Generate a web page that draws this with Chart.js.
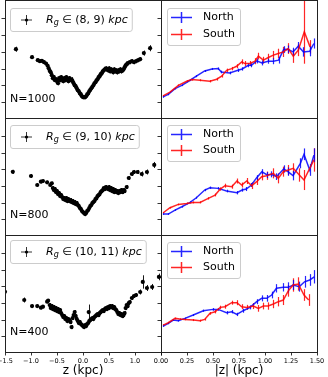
<!DOCTYPE html>
<html><head><meta charset="utf-8">
<script src="https://cdn.jsdelivr.net/npm/chart.js@4.4.1/dist/chart.umd.min.js"></script>
<style>
html,body{margin:0;padding:0;background:#fff;}
#wrap{position:relative;width:328px;height:377px;overflow:hidden;background:#fff;}
canvas{position:absolute;}
</style></head><body><div id="wrap"></div>
<script>
// ---------- DATA ----------
// left column: [z (kpc), value, error]
const leftR1 = [
[-1.29,4.18,0.15],[-0.98,3.71,0.1],[-0.87,3.53,0.1],[-0.83,3.47,0.1],[-0.79,3.49,0.1],[-0.75,3.41,0.1],[-0.71,3.33,0.1],[-0.68,3.20,0.1],[-0.66,3.05,0.1],[-0.64,2.90,0.1],
[-0.62,2.81,0.12],[-0.60,2.64,0.12],[-0.58,2.46,0.12],[-0.56,2.52,0.12],[-0.54,2.34,0.12],[-0.52,2.40,0.12],[-0.50,2.28,0.12],[-0.48,2.16,0.12],[-0.46,2.46,0.12],[-0.44,2.34,0.12],
[-0.42,2.52,0.12],[-0.40,2.40,0.12],[-0.38,2.28,0.12],[-0.36,2.46,0.12],[-0.34,2.34,0.12],[-0.32,2.52,0.12],[-0.30,2.40,0.12],[-0.28,2.28,0.12],[-0.26,2.46,0.12],[-0.24,2.34,0.12],
[-0.22,2.40,0.12],[-0.20,2.28,0.12],[-0.18,2.16,0.12],[-0.16,2.04,0.12],[-0.14,1.98,0.12],[-0.12,1.86,0.12],[-0.10,1.74,0.12],[-0.08,1.68,0.12],[-0.06,1.56,0.12],[-0.04,1.50,0.12],
[-0.02,1.39,0.12],[0.00,1.33,0.12],[0.02,1.33,0.12],[0.04,1.33,0.12],[0.06,1.39,0.12],[0.08,1.50,0.12],[0.10,1.56,0.12],[0.12,1.68,0.12],[0.14,1.77,0.12],[0.16,1.86,0.12],
[0.18,1.95,0.12],[0.20,2.04,0.12],[0.22,2.16,0.12],[0.24,2.22,0.12],[0.26,2.34,0.12],[0.28,2.40,0.12],[0.30,2.52,0.12],[0.32,2.58,0.12],[0.34,2.70,0.12],[0.36,2.75,0.12],
[0.38,2.87,0.12],[0.40,2.93,0.12],[0.42,2.99,0.12],[0.44,3.05,0.12],[0.46,2.99,0.12],[0.48,2.93,0.12],[0.50,3.05,0.12],[0.52,2.87,0.12],[0.54,2.99,0.12],[0.56,2.93,0.12],
[0.58,2.81,0.12],[0.60,2.99,0.12],[0.62,2.87,0.12],[0.64,2.93,0.12],[0.66,2.81,0.12],[0.68,2.93,0.12],[0.70,2.87,0.12],[0.72,2.99,0.12],[0.74,2.87,0.12],[0.76,2.93,0.12],
[0.78,2.99,0.12],[0.80,3.11,0.12],[0.82,3.23,0.12],[0.84,3.29,0.12],[0.86,3.35,0.12],
[0.90,3.41,0.12],[0.94,3.47,0.12],[0.98,3.41,0.12],[1.02,3.47,0.12],[1.06,3.53,0.12],[1.10,3.59,0.12],[1.17,3.95,0.15],[1.29,4.24,0.18]
];
const leftR2 = [
[-1.35,3.88,0.12],[-1.00,3.63,0.12],[-0.88,3.09,0.1],[-0.81,3.29,0.1],[-0.77,3.33,0.1],[-0.69,3.25,0.1],[-0.63,3.09,0.1],[-0.60,3.19,0.1],
[-0.58,2.91,0.12],[-0.56,2.79,0.12],[-0.54,2.85,0.12],[-0.52,2.67,0.12],[-0.50,2.73,0.12],[-0.48,2.55,0.12],[-0.46,2.61,0.12],[-0.44,2.43,0.12],[-0.42,2.49,0.12],[-0.40,2.37,0.12],
[-0.38,2.25,0.12],[-0.36,2.31,0.12],[-0.34,2.19,0.12],[-0.32,2.31,0.12],[-0.30,2.13,0.12],[-0.28,2.25,0.12],[-0.26,2.13,0.12],[-0.24,2.19,0.12],[-0.22,2.07,0.12],[-0.20,2.13,0.12],
[-0.18,2.01,0.12],[-0.16,2.07,0.12],[-0.14,1.95,0.12],[-0.12,2.01,0.12],[-0.10,1.89,0.12],[-0.08,1.83,0.12],[-0.06,1.71,0.12],[-0.04,1.65,0.12],[-0.02,1.53,0.12],[0.00,1.47,0.12],
[0.02,1.41,0.12],[0.04,1.35,0.12],[0.06,1.41,0.12],[0.08,1.53,0.12],[0.10,1.59,0.12],[0.12,1.71,0.12],[0.14,1.83,0.12],[0.16,1.89,0.12],[0.18,2.01,0.12],[0.20,2.07,0.12],
[0.22,2.13,0.12],[0.24,2.25,0.12],[0.26,2.31,0.12],[0.28,2.43,0.12],[0.30,2.49,0.12],[0.32,2.55,0.12],[0.34,2.67,0.12],[0.36,2.73,0.12],[0.38,2.79,0.12],[0.40,2.91,0.12],
[0.42,2.85,0.12],[0.44,2.97,0.12],[0.46,2.91,0.12],[0.48,2.85,0.12],[0.50,2.97,0.12],[0.52,2.79,0.12],[0.54,2.91,0.12],[0.56,2.73,0.12],[0.58,2.85,0.12],[0.60,2.67,0.12],
[0.62,2.79,0.12],[0.64,2.67,0.12],[0.66,2.73,0.12],[0.68,2.61,0.12],[0.70,2.73,0.12],[0.72,2.67,0.12],[0.74,2.79,0.12],[0.76,2.67,0.12],[0.78,2.79,0.12],[0.80,2.73,0.12],
[0.84,2.97,0.12],[0.88,3.51,0.12],[0.94,3.75,0.12],[0.98,3.87,0.12],[1.05,3.87,0.12],[1.13,3.75,0.15],[1.23,3.87,0.15],[1.37,4.29,0.18]
];
const leftR3 = [
[-1.50,3.70,0.15],[-1.13,3.21,0.15],[-0.98,2.85,0.1],[-0.88,2.85,0.1],[-0.81,2.75,0.1],[-0.77,2.81,0.1],[-0.69,3.11,0.1],[-0.67,3.17,0.1],
[-0.64,2.91,0.12],[-0.62,2.73,0.12],[-0.60,2.85,0.12],[-0.58,2.67,0.12],[-0.56,2.79,0.12],[-0.54,2.61,0.12],[-0.52,2.73,0.12],[-0.50,2.55,0.12],[-0.48,2.67,0.12],[-0.46,2.49,0.12],
[-0.44,2.61,0.12],[-0.42,2.43,0.12],[-0.40,2.31,0.12],[-0.38,2.19,0.12],[-0.36,2.25,0.12],[-0.34,2.07,0.12],[-0.32,2.13,0.12],[-0.30,1.95,0.12],[-0.28,2.07,0.12],[-0.26,2.01,0.12],
[-0.24,1.89,0.12],[-0.22,1.59,0.12],[-0.20,2.13,0.12],[-0.18,2.31,0.12],[-0.16,2.49,0.12],[-0.14,2.25,0.12],[-0.12,2.07,0.12],[-0.10,1.95,0.12],[-0.08,1.83,0.12],[-0.06,1.89,0.12],
[-0.04,1.77,0.12],[-0.02,1.71,0.12],[0.00,1.65,0.12],[0.02,1.59,0.12],[0.04,1.71,0.12],[0.06,1.65,0.12],[0.08,1.77,0.12],[0.10,1.83,0.12],[0.11,2.49,0.45],[0.12,1.95,0.12],
[0.14,2.01,0.12],[0.16,2.07,0.12],[0.18,2.13,0.12],[0.20,2.07,0.12],[0.22,2.19,0.12],[0.24,2.25,0.12],[0.26,2.31,0.12],[0.28,2.37,0.12],[0.30,2.31,0.12],[0.32,2.43,0.12],
[0.34,2.49,0.12],[0.36,2.55,0.12],[0.38,2.61,0.12],[0.40,2.55,0.12],[0.42,2.67,0.12],[0.44,2.73,0.12],[0.46,2.67,0.12],[0.48,2.79,0.12],[0.50,2.73,0.12],[0.52,2.85,0.12],
[0.54,2.79,0.12],[0.56,2.85,0.12],[0.58,2.73,0.12],[0.60,2.79,0.12],[0.62,2.67,0.12],[0.64,2.61,0.12],[0.66,2.49,0.12],[0.68,2.37,0.12],[0.70,2.43,0.12],[0.72,2.31,0.12],
[0.74,2.37,0.12],[0.76,2.25,0.12],[0.78,2.31,0.12],[0.80,2.43,0.12],[0.82,2.73,0.12],[0.84,2.91,0.12],[0.86,2.85,0.12],[0.88,3.03,0.12],[0.90,3.09,0.12],
[0.94,3.33,0.12],[0.98,3.45,0.12],[1.02,3.51,0.12],[1.10,3.69,0.15],[1.15,4.29,0.4],[1.23,3.93,0.18],[1.33,3.99,0.18],[1.46,4.59,0.2]
];
// right column: [|z| (kpc), value, error]
const north1 = [[0.02,1.35,0.05],[0.07,1.50,0.05],[0.135,1.84,0.05],[0.2,2.04,0.05],[0.28,2.34,0.05],[0.34,2.58,0.06],[0.42,2.89,0.06],[0.49,3.01,0.06],[0.55,3.03,0.07],[0.58,2.83,0.08],[0.66,2.77,0.08],[0.74,2.93,0.1],[0.78,3.01,0.1],[0.84,3.23,0.12],[0.87,3.23,0.12],[0.92,3.49,0.15],[0.97,3.37,0.15],[1.03,3.47,0.15],[1.08,3.47,0.18],[1.13,3.53,0.2],[1.18,4.16,0.2],[1.22,4.18,0.22],[1.27,4.02,0.25],[1.32,4.36,0.25],[1.37,4.02,0.28],[1.43,4.06,0.3],[1.47,4.52,0.3]];
const south1 = [[0.02,1.41,0.05],[0.086,1.64,0.05],[0.167,2.04,0.05],[0.247,2.28,0.06],[0.295,2.38,0.06],[0.375,2.34,0.06],[0.47,2.28,0.07],[0.535,2.40,0.08],[0.583,2.58,0.08],[0.631,2.93,0.1],[0.679,3.03,0.1],[0.727,3.17,0.12],[0.776,3.43,0.15],[0.808,3.33,0.15],[0.856,3.33,0.15],[0.904,3.47,0.18],[0.936,3.77,0.2],[0.984,3.53,0.2],[1.032,3.69,0.22],[1.08,3.83,0.25],[1.128,3.93,0.28],[1.176,4.02,0.3],[1.224,4.22,0.32],[1.272,3.77,0.4],[1.32,4.12,0.35],[1.378,5.22,1.9],[1.433,4.32,0.4]];
const north2 = [[0.022,1.35,0.05],[0.07,1.35,0.05],[0.135,1.59,0.05],[0.2,1.79,0.05],[0.28,2.05,0.06],[0.34,2.33,0.06],[0.42,2.79,0.07],[0.47,2.93,0.07],[0.55,2.89,0.08],[0.63,2.73,0.08],[0.73,2.63,0.1],[0.78,2.79,0.1],[0.82,2.85,0.12],[0.87,3.09,0.12],[0.92,3.53,0.15],[0.97,3.89,0.15],[1.02,3.69,0.18],[1.06,3.73,0.18],[1.11,3.59,0.2],[1.18,4.05,0.22],[1.22,3.89,0.25],[1.27,3.65,0.28],[1.34,4.39,0.3],[1.375,4.93,0.35],[1.43,3.99,0.35],[1.47,4.88,0.4]];
const south2 = [[0.022,1.43,0.05],[0.086,1.73,0.05],[0.167,1.93,0.05],[0.247,1.99,0.06],[0.31,2.05,0.06],[0.375,2.05,0.06],[0.455,2.29,0.07],[0.52,2.49,0.08],[0.57,2.85,0.1],[0.615,3.05,0.12],[0.68,2.99,0.12],[0.73,3.33,0.15],[0.776,3.09,0.15],[0.824,3.33,0.18],[0.872,3.05,0.2],[0.92,3.29,0.2],[0.968,3.59,0.22],[1.016,3.65,0.25],[1.08,3.79,0.3],[1.128,3.49,0.3],[1.176,3.89,0.3],[1.224,3.99,0.3],[1.272,4.09,0.3],[1.33,3.69,0.4],[1.375,3.39,0.6],[1.47,4.59,0.7]];
const north3 = [[0.022,1.65,0.05],[0.07,1.81,0.05],[0.118,2.01,0.05],[0.167,1.97,0.05],[0.23,2.11,0.05],[0.31,2.31,0.06],[0.407,2.57,0.07],[0.5,2.65,0.08],[0.55,2.65,0.08],[0.63,2.45,0.1],[0.68,2.51,0.1],[0.73,2.35,0.1],[0.79,2.57,0.12],[0.856,2.77,0.12],[0.92,3.11,0.15],[0.968,3.31,0.18],[1.016,3.31,0.2],[1.064,3.51,0.2],[1.11,3.91,0.25],[1.176,3.97,0.25],[1.224,3.97,0.3],[1.27,4.11,0.3],[1.33,4.01,0.3],[1.38,4.30,0.35],[1.43,4.41,0.35],[1.474,4.60,0.4]];
const south3 = [[0.022,1.71,0.05],[0.07,1.85,0.05],[0.135,2.11,0.05],[0.18,2.07,0.05],[0.23,2.05,0.05],[0.31,2.01,0.06],[0.375,1.97,0.06],[0.42,2.05,0.07],[0.47,2.41,0.08],[0.52,2.51,0.1],[0.57,2.77,0.1],[0.615,2.81,0.12],[0.68,3.05,0.12],[0.73,3.05,0.15],[0.776,2.81,0.15],[0.824,2.77,0.15],[0.888,2.85,0.18],[0.936,2.71,0.2],[0.984,2.85,0.2],[1.03,2.85,0.22],[1.08,2.97,0.25],[1.128,3.11,0.28],[1.176,3.21,0.3],[1.224,3.76,0.35],[1.27,4.11,0.4],[1.32,4.17,0.4],[1.375,3.51,0.35],[1.42,3.21,0.35]];

const rgBins = [[8, 9], [9, 10], [10, 11]];
const nLabels = ['N=1000', 'N=800', 'N=400'];
const seriesNames = ['North', 'South'];
const leftTicks = [-1.5, -1.0, -0.5, 0.0, 0.5, 1.0, 1.5];
const rightTicks = [0, 0.25, 0.5, 0.75, 1.0, 1.25, 1.5];
const yTicks = [1, 2, 3, 4, 5, 6];

// ---------- DRAWING ----------
const FONT = "'DejaVu Sans', sans-serif";
const M = 30;
const wrap = document.getElementById('wrap');

const errPlugin = {
  id: 'errbars',
  beforeDatasetsDraw(chart) {
    const {ctx, chartArea: ca, scales: {x, y}} = chart;
    ctx.save();
    ctx.beginPath(); ctx.rect(ca.left, ca.top, ca.width, ca.height); ctx.clip();
    chart.data.datasets.forEach(ds => {
      if (!ds.errY) return;
      ctx.strokeStyle = ds.errColor; ctx.lineWidth = ds.errWidth;
      ds.data.forEach((pt, i) => {
        const e = ds.errY[i];
        const px = Math.round(x.getPixelForValue(pt.x)) + 0.5;
        ctx.beginPath();
        ctx.moveTo(px, y.getPixelForValue(pt.y - e));
        ctx.lineTo(px, y.getPixelForValue(pt.y + e));
        ctx.stroke();
      });
    });
    ctx.restore();
  }
};

function roundBox(ctx, x, y, w, h) {
  ctx.beginPath();
  ctx.roundRect(x + 0.5, y + 0.5, w, h, 2.5);
  ctx.fillStyle = 'rgba(255,255,255,0.8)';
  ctx.fill();
  ctx.strokeStyle = '#cccccc'; ctx.lineWidth = 1;
  ctx.stroke();
}

const decorPlugin = {
  id: 'decor',
  afterDraw(chart, args, o) {
    const {ctx, chartArea: ca} = chart;
    ctx.save();
    ctx.strokeStyle = '#222'; ctx.lineWidth = 1;
    ctx.strokeRect(ca.left + 0.5, ca.top + 0.5, ca.width, ca.height);
    ctx.textBaseline = 'middle'; ctx.textAlign = 'left';
    if (o.kind === 'rg') {
      const fs = 11;
      const pieces = [
        {t: 'R', f: `italic ${fs}px ${FONT}`, dy: 0},
        {t: 'g', f: `italic 8px ${FONT}`, dy: 3},
        {t: ' \u2208 ', f: `${fs}px ${FONT}`, dy: 0},
        {t: `(${o.bin[0]}, ${o.bin[1]})`, f: `${fs}px ${FONT}`, dy: 0},
        {t: ' kpc', f: `italic ${fs}px ${FONT}`, dy: 0}
      ];
      let tw = 0;
      pieces.forEach(p => { ctx.font = p.f; p.w = ctx.measureText(p.t).width; tw += p.w; });
      const bx = ca.left + 5, by = ca.top + o.ly, bh = 23;
      roundBox(ctx, bx, by, 36 + tw + 4, bh);
      const cy = by + bh / 2 + 0.5;
      ctx.strokeStyle = '#000'; ctx.lineWidth = 0.8;
      ctx.beginPath();
      ctx.moveTo(bx + 11, cy); ctx.lineTo(bx + 22, cy);
      ctx.moveTo(bx + 16.5, cy - 5); ctx.lineTo(bx + 16.5, cy + 5);
      ctx.stroke();
      ctx.fillStyle = '#000';
      ctx.beginPath(); ctx.arc(bx + 16.5, cy, 1.6, 0, Math.PI * 2); ctx.fill();
      let tx = bx + 36;
      pieces.forEach(p => { ctx.font = p.f; ctx.fillText(p.t, tx, cy + p.dy); tx += p.w; });
      ctx.font = `11px ${FONT}`;
      ctx.fillText(o.n, ca.left + 5, ca.top + o.ny);
    } else {
      const bx = ca.left + 6, by = ca.top + o.ly, bh = o.lh;
      roundBox(ctx, bx, by, 73, bh);
      const rows = [[seriesNames[0], 'rgba(0,0,255,0.85)', by + 9.5], [seriesNames[1], 'rgba(255,0,0,0.85)', by + bh - 10.5]];
      rows.forEach(([name, col, cy]) => {
        ctx.strokeStyle = col; ctx.lineWidth = 1.5;
        ctx.beginPath();
        ctx.moveTo(bx + 4, cy); ctx.lineTo(bx + 25, cy);
        ctx.moveTo(bx + 14.5, cy - 5.5); ctx.lineTo(bx + 14.5, cy + 5.5);
        ctx.stroke();
        ctx.fillStyle = '#000';
        ctx.font = `11px ${FONT}`;
        ctx.fillText(name, bx + 36, cy);
      });
    }
    ctx.restore();
  }
};

function fmtLeft(v) {
  if (Math.abs(v - 1.5) < 1e-9) return '';
  return (v < 0 ? '\u2212' : '') + Math.abs(v).toFixed(1);
}
function fmtRight(v) { return v.toFixed(2); }

function panel(p) {
  const B = p.bottom ? 30 : M;
  const cv = document.createElement('canvas');
  cv.width = p.w + 2 * M; cv.height = p.h + M + B;
  cv.style.left = (p.left - M) + 'px'; cv.style.top = (p.top - M) + 'px';
  cv.style.width = cv.width + 'px'; cv.style.height = cv.height + 'px';
  wrap.appendChild(cv);
  new Chart(cv, {
    type: 'scatter',
    data: {datasets: p.datasets},
    options: {
      responsive: false, animation: false, devicePixelRatio: 1,
      layout: {padding: {left: 0, top: M, right: M, bottom: 0}},
      plugins: {legend: {display: false}, tooltip: {enabled: false}, decor: p.decor},
      scales: {
        x: {
          type: 'linear', min: p.xMin, max: p.xMax,
          afterFit: s => { s.height = B; },
          afterBuildTicks: s => { s.ticks = p.xTicks.map(v => ({value: v})); },
          grid: {display: p.bottom, drawOnChartArea: false, drawTicks: true, tickLength: 3.5, color: '#000', lineWidth: 0.8},
          border: {display: false},
          ticks: {display: p.bottom, font: {family: FONT, size: 6.5}, color: '#000', padding: 2, maxRotation: 0, autoSkip: false, callback: p.fmt},
          title: {display: p.bottom, text: p.xTitle, font: {family: FONT, size: 12}, color: '#000', padding: {top: 0, bottom: 3.5}}
        },
        y: {
          type: 'linear', min: 0.1, max: 7.1,
          afterFit: s => { s.width = M; },
          afterBuildTicks: s => { s.ticks = yTicks.map(v => ({value: v})); },
          grid: {drawOnChartArea: false, drawTicks: true, tickLength: 3.5, color: '#000', lineWidth: 0.8},
          border: {display: false},
          ticks: {display: false}
        }
      }
    },
    plugins: [errPlugin, decorPlugin]
  });
}

const rowTops = [0, 118, 235];
const rowH = [118, 117, 117];
const leftData = [leftR1, leftR2, leftR3];
const northData = [north1, north2, north3];
const southData = [south1, south2, south3];
const rgLegendY = [8, 7, 5];
const nY = [99, 97, 97];
const nsLegendY = [8, 7, 7];
const nsLegendH = [37, 36, 36];

for (let r = 0; r < 3; r++) {
  const bottom = r === 2;
  const L = leftData[r];
  panel({
    left: 5, top: rowTops[r], w: 156, h: rowH[r], bottom,
    xMin: -1.5, xMax: 1.5, xTicks: leftTicks, fmt: fmtLeft, xTitle: 'z (kpc)',
    decor: {kind: 'rg', bin: rgBins[r], n: nLabels[r], ly: rgLegendY[r], ny: nY[r]},
    datasets: [{
      data: L.map(d => ({x: d[0], y: d[1]})),
      errY: L.map(d => d[2]), errColor: '#000', errWidth: 0.9,
      pointRadius: 2.1, pointBackgroundColor: '#000', pointBorderWidth: 0, showLine: false
    }]
  });
  const N = northData[r], S = southData[r];
  panel({
    left: 161, top: rowTops[r], w: 156, h: rowH[r], bottom,
    xMin: 0, xMax: 1.5, xTicks: rightTicks, fmt: fmtRight, xTitle: '|z| (kpc)',
    decor: {kind: 'ns', ly: nsLegendY[r], lh: nsLegendH[r]},
    datasets: [
      {label: seriesNames[1], data: S.map(d => ({x: d[0], y: d[1]})), errY: S.map(d => d[2]),
       errColor: 'rgba(255,0,0,0.85)', errWidth: 1.2, showLine: true, borderColor: 'rgba(255,0,0,0.85)',
       borderWidth: 1.5, pointRadius: 0, order: 0},
      {label: seriesNames[0], data: N.map(d => ({x: d[0], y: d[1]})), errY: N.map(d => d[2]),
       errColor: 'rgba(0,0,255,0.85)', errWidth: 1.2, showLine: true, borderColor: 'rgba(0,0,255,0.85)',
       borderWidth: 1.5, pointRadius: 0, order: 1}
    ]
  });
}
</script></body></html>
